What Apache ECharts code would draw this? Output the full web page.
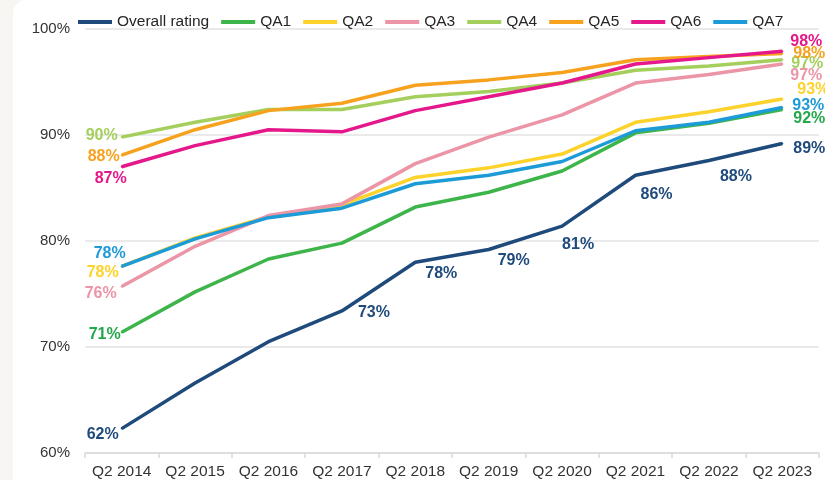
<!DOCTYPE html>
<html>
<head>
<meta charset="utf-8">
<script src="https://cdn.jsdelivr.net/npm/echarts@6/dist/echarts.min.js"></script>
<style>
  html, body { margin: 0; padding: 0; }
  #chart { width: 825px; height: 480px; }
</style>
</head>
<body>
<div id="chart"></div>
<script>
// 类目 / 数据
var categories = ['Q2 2014', 'Q2 2015', 'Q2 2016', 'Q2 2017', 'Q2 2018', 'Q2 2019', 'Q2 2020', 'Q2 2021', 'Q2 2022', 'Q2 2023'];
var seriesNames = ['Overall rating', 'QA1', 'QA2', 'QA3', 'QA4', 'QA5', 'QA6', 'QA7'];

var overall = [62.3, 66.6, 70.5, 73.4, 78.0, 79.2, 81.4, 86.2, 87.6, 89.2];
var qa1 = [71.4, 75.2, 78.3, 79.8, 83.2, 84.6, 86.6, 90.2, 91.1, 92.4];
var qa2 = [77.6, 80.3, 82.3, 83.4, 86.0, 86.9, 88.2, 91.2, 92.2, 93.4];
var qa3 = [75.7, 79.5, 82.4, 83.5, 87.3, 89.8, 91.9, 94.9, 95.7, 96.7];
var qa4 = [89.8, 91.2, 92.4, 92.4, 93.6, 94.1, 94.9, 96.1, 96.5, 97.1];
var qa5 = [88.1, 90.5, 92.3, 93.0, 94.7, 95.2, 95.9, 97.1, 97.4, 97.7];
var qa6 = [87.0, 89.0, 90.5, 90.3, 92.3, 93.6, 94.9, 96.7, 97.3, 97.9];
var qa7 = [77.6, 80.2, 82.2, 83.1, 85.4, 86.2, 87.5, 90.4, 91.2, 92.6];

var yTicks = [60, 70, 80, 90, 100];

var seriesValues = [overall, qa1, qa2, qa3, qa4, qa5, qa6, qa7];
var colors = ['#1f4a7c', '#3db54a', '#fdd22b', '#eb95a6', '#a4cf5c', '#f7a21e', '#e5188b', '#1d9bd7'];
var labelColors = ['#1f4a7c', '#22a84a', '#fdd22b', '#eb95a6', '#a4cf5c', '#f7a21e', '#e5188b', '#1d9bd7'];
var fontName = '"Liberation Sans", Arial, sans-serif';

// 标签位置: index -> [position, dx, dy]
var labelSpots = [
  {0: ['left', 3, 6], 3: ['right', 10, 2], 4: ['right', 4, 11], 5: ['right', 3, 11], 6: ['right', -6, 18], 7: ['right', -1, 19], 8: ['right', 5, 16], 9: ['right', 5, 5]},
  {0: ['left', 5, 2], 9: ['right', 5, 9]},
  {0: ['left', 3, 6], 9: ['right', 9, -9]},
  {0: ['left', 1, 7], 9: ['right', 2, 12]},
  {0: ['left', 2, -2], 9: ['right', 3, 4]},
  {0: ['left', 4, 1], 9: ['right', 5, 0]},
  {0: ['left', 11, 12], 9: ['right', 2, -10]},
  {0: ['left', 10, -13], 9: ['right', 4, -2]}
];

var chart = echarts.init(document.getElementById('chart'));

var series = seriesNames.map(function(name, k) {
  var spots = labelSpots[k];
  return {
    name: name,
    type: 'line',
    symbol: 'circle',
    symbolSize: 2,
    z: 2 + k,
    lineStyle: { width: 3.5, color: colors[k] },
    itemStyle: { color: colors[k] },
    emphasis: { disabled: true },
    label: {
      show: false,
      color: labelColors[k],
      fontFamily: fontName,
      fontWeight: 'bold',
      fontSize: 16,
      formatter: function(p) { return Math.round(p.value) + '%'; }
    },
    data: seriesValues[k].map(function(v, i) {
      var s = spots[i];
      if (!s) return v;
      return { value: v, label: { show: true, position: s[0], offset: [s[1], s[2]] } };
    })
  };
});

var option = {
  animation: false,
  backgroundColor: '#f7f6f2',
  color: colors,
  graphic: [{
    type: 'rect',
    z: -10,
    shape: { x: 13, y: 0, width: 830, height: 500, r: [14, 0, 0, 0] },
    style: { fill: '#ffffff' }
  }],
  legend: {
    left: 73,
    top: 9,
    icon: 'rect',
    itemWidth: 34,
    itemHeight: 4,
    itemGap: 12,
    textStyle: { color: '#262626', fontSize: 15.5, fontFamily: fontName },
    data: seriesNames
  },
  grid: { left: 85, right: 6, top: 29, bottom: 27 },
  xAxis: {
    type: 'category',
    data: categories,
    boundaryGap: true,
    axisLine: { lineStyle: { color: '#d9d9d9', width: 1.5 } },
    axisTick: { show: true, length: 5, lineStyle: { color: '#d9d9d9', width: 1.5 } },
    axisLabel: { interval: 0, color: '#333', fontSize: 15.5, margin: 11, fontFamily: fontName }
  },
  yAxis: {
    type: 'value',
    min: yTicks[0],
    max: yTicks[yTicks.length - 1],
    interval: 10,
    axisLine: { show: false },
    axisTick: { show: false },
    splitLine: { lineStyle: { color: '#e3e3e3', width: 1.5 } },
    axisLabel: { color: '#333', fontSize: 15, margin: 15, formatter: '{value}%', fontFamily: fontName }
  },
  series: series
};

chart.setOption(option);
</script>
</body>
</html>
